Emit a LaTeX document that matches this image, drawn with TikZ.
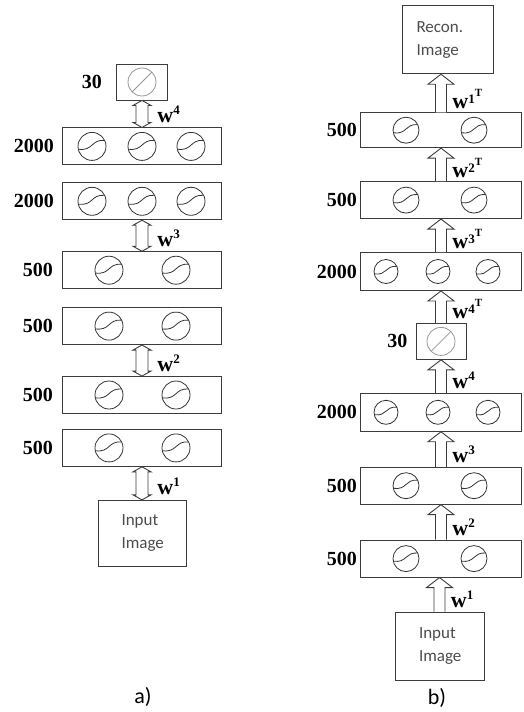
\documentclass[tikz,border=0pt]{standalone}
\usepackage{fontspec}
\setmainfont{Liberation Serif}
\newfontfamily\calib{Carlito}
\usetikzlibrary{positioning,calc}
\definecolor{inkgray}{RGB}{60,60,60}
\definecolor{linegray}{RGB}{150,150,150}

% hollow arrows: #1 lower node, #2 upper node, #3 label
\newcommand{\biarr}[3]{%
  \draw[hollow] let \p1=(#1.north), \p2=(#2.south) in
    (\x1,\y1) -- (\x1-9pt,\y1+5pt) -- (\x1-6pt,\y1+5pt) -- (\x1-6pt,\y2-5pt) -- (\x1-9pt,\y2-5pt)
    -- (\x1,\y2) -- (\x1+9pt,\y2-5pt) -- (\x1+6pt,\y2-5pt) -- (\x1+6pt,\y1+5pt) -- (\x1+9pt,\y1+5pt) -- cycle
    (\x1+15pt,\y1+5pt) node[wlab] (#1w) {#3};}
\newcommand{\uparr}[3]{%
  \draw[hollow] let \p1=(#1.north), \p2=(#2.south) in
    (\x1-5.5pt,\y1) -- (\x1-5.5pt,\y2-10pt) -- (\x1-13pt,\y2-10pt) -- (\x1,\y2)
    -- (\x1+13pt,\y2-10pt) -- (\x1+5.5pt,\y2-10pt) -- (\x1+5.5pt,\y1)
    (\x1+11pt,\y1+4pt) node[wlab] (#1w) {#3};}
\newcommand{\wsup}[1]{w\raisebox{8pt}{\fontsize{13}{13}\selectfont #1}}
\newcommand{\wtr}[1]{w\raisebox{5pt}{\fontsize{13}{13}\selectfont #1}\raisebox{12pt}{\fontsize{11}{11}\selectfont T}}

\begin{document}
\begin{tikzpicture}[x=1pt, y=-1pt,
  layer/.style={draw=inkgray, line width=0.9pt, minimum width=159pt, minimum height=37pt, inner sep=0pt},
  layerb/.style={layer, minimum width=161pt},
  codebox/.style={layer, minimum width=51pt, minimum height=36pt},
  imgbox/.style={draw=inkgray, line width=0.9pt, align=left, text width=41pt, inner xsep=23.5pt,
    font=\calib\fontsize{17}{23}\selectfont, text=black!70},
  unitnum/.style={font=\fontsize{20}{20}\selectfont\bfseries, inner sep=0pt},
  wlab/.style={anchor=base west, inner sep=0pt, font=\fontsize{22}{22}\selectfont\bfseries},
  hollow/.style={draw=inkgray, line width=0.9pt, fill=white, line join=miter},
  cell/.style={draw=black!80, line width=0.8pt},
  tag/.style={font=\calib\fontsize{22}{22}\selectfont},
  sigu/.pic={\draw[cell] (0pt,0pt) circle[radius=#1];
    \draw[cell] ({-0.98*#1},{-0.2*#1}) .. controls ({0.1*#1},{-0.35*#1}) and ({-0.1*#1},{0.5*#1}) .. ({0.9*#1},{0.43*#1});},
  linu/.pic={\draw[cell, draw=linegray] (0pt,0pt) circle[radius=#1];
    \draw[cell, draw=linegray] ({-0.7*#1},{-0.7*#1}) -- ({0.7*#1},{0.7*#1});}
]
\useasboundingbox (0,0) rectangle (523,712);

% a) stack of RBMs
\node[codebox] (acode) at (142,82) {};
\node[layer, below=27pt of acode] (a4) {};
\node[layer, below=17pt of a4] (a3) {};
\node[layer, below=31pt of a3] (a2b) {};
\node[layer, below=18pt of a2b] (a2) {};
\node[layer, below=31pt of a2] (a1b) {};
\node[layer, below=15pt of a1b] (a1) {};
\node[imgbox, minimum height=66pt, below=33pt of a1] (ain) {Input\\Image};
\node[unitnum, left=14pt of acode] (acodes) {30};
\node[unitnum, left=8pt of a4] (a4s) {2000};
\node[unitnum, left=8pt of a3] (a3s) {2000};
\node[unitnum, left=9pt of a2b] (a2bs) {500};
\node[unitnum, left=9pt of a2] (a2s) {500};
\node[unitnum, left=9pt of a1b] (a1bs) {500};
\node[unitnum, left=9pt of a1] (a1s) {500};
\pic at (acode.center) {linu=14pt};
\foreach \lay in {a4,a3}
  \foreach \dx in {-50,0,49} \pic at ([xshift=\dx pt]\lay.center) {sigu=14pt};
\foreach \lay in {a2b,a2,a1b,a1}
  \foreach \dx in {-33,34} \pic at ([xshift=\dx pt]\lay.center) {sigu=14pt};
\biarr{a4}{acode}{\wsup{4}}
\biarr{a2b}{a3}{\wsup{3}}
\biarr{a1b}{a2}{\wsup{2}}
\biarr{ain}{a1}{\wsup{1}}
\node[tag] (atag) at (143,697) {a)};

% b) unrolled autoencoder
\node[imgbox, minimum height=68pt, inner xsep=24pt] (bin) at (439.5,646) {Input\\Image};
\node[layerb, above=34pt of bin, xshift=1.5pt] (b1) {};
\node[layerb, above=35pt of b1] (b2) {};
\node[layerb, minimum height=38pt, above=35pt of b2] (b3) {};
\node[codebox, minimum width=50pt, above=33pt of b3] (bcode) {};
\node[layerb, minimum height=38pt, above=32pt of bcode] (b3t) {};
\node[layerb, above=33pt of b3t] (b2t) {};
\node[layerb, minimum height=35pt, above=33pt of b2t] (b1t) {};
\node[imgbox, minimum height=68pt, text width=62pt, inner xsep=14.5pt, above=38pt of b1t, xshift=6.5pt] (brec) {Recon.\\Image};
\node[unitnum, left=3pt of b1] (b1s) {500};
\node[unitnum, left=3pt of b2] (b2s) {500};
\node[unitnum, left=3pt of b3] (b3s) {2000};
\node[unitnum, left=8pt of bcode] (bcodes) {30};
\node[unitnum, left=3pt of b3t] (b3ts) {2000};
\node[unitnum, left=3pt of b2t] (b2ts) {500};
\node[unitnum, left=3pt of b1t] (b1ts) {500};
\pic at (bcode.center) {linu=14pt};
\foreach \lay in {b3,b3t}
  \foreach \dx in {-55,-3,47} \pic at ([xshift=\dx pt]\lay.center) {sigu=12pt};
\foreach \lay in {b1,b2,b2t,b1t}
  \foreach \dx in {-35,33} \pic at ([xshift=\dx pt]\lay.center) {sigu=13pt};
\uparr{bin}{b1}{\wsup{1}}
\uparr{b1}{b2}{\wsup{2}}
\uparr{b2}{b3}{\wsup{3}}
\uparr{b3}{bcode}{\wsup{4}}
\uparr{bcode}{b3t}{\wtr{4}}
\uparr{b3t}{b2t}{\wtr{3}}
\uparr{b2t}{b1t}{\wtr{2}}
\uparr{b1t}{brec}{\wtr{1}}
\node[tag] (btag) at (437,698) {b)};
\end{tikzpicture}
\end{document}
